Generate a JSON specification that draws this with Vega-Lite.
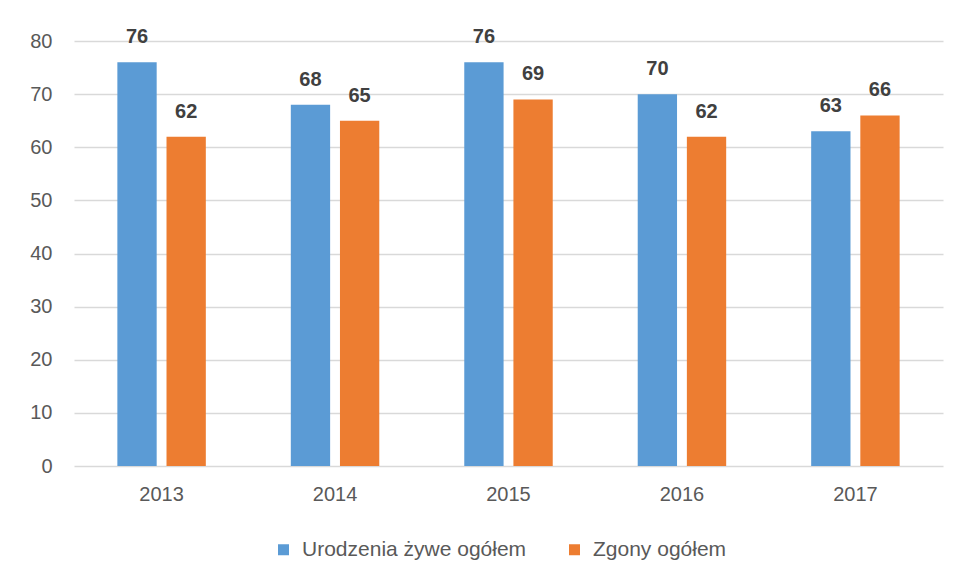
{
  "$schema": "https://vega.github.io/schema/vega-lite/v6.json",
  "width": 869,
  "height": 425,
  "autosize": {"type": "none"},
  "padding": {"left": 74, "top": 41, "right": 14, "bottom": 115},
  "background": "white",
  "config": {
    "view": {"stroke": null},
    "font": "Liberation Sans"
  },
  "data": {
    "values": [
      {"year": "2013", "series": "Urodzenia żywe ogółem", "value": 76},
      {"year": "2013", "series": "Zgony ogółem", "value": 62},
      {"year": "2014", "series": "Urodzenia żywe ogółem", "value": 68},
      {"year": "2014", "series": "Zgony ogółem", "value": 65},
      {"year": "2015", "series": "Urodzenia żywe ogółem", "value": 76},
      {"year": "2015", "series": "Zgony ogółem", "value": 69},
      {"year": "2016", "series": "Urodzenia żywe ogółem", "value": 70},
      {"year": "2016", "series": "Zgony ogółem", "value": 62},
      {"year": "2017", "series": "Urodzenia żywe ogółem", "value": 63},
      {"year": "2017", "series": "Zgony ogółem", "value": 66}
    ]
  },
  "encoding": {
    "x": {
      "field": "year",
      "type": "nominal",
      "scale": {"paddingInner": 0.49, "paddingOuter": 0.25},
      "axis": {
        "title": null,
        "labelAngle": 0,
        "domain": false,
        "ticks": false,
        "labelPadding": 18,
        "labelFontSize": 20,
        "labelColor": "#595959"
      }
    },
    "xOffset": {
      "field": "series",
      "type": "nominal",
      "scale": {"domain": ["Urodzenia żywe ogółem", "Zgony ogółem"], "paddingInner": 0.2, "paddingOuter": 0}
    },
    "y": {
      "field": "value",
      "type": "quantitative",
      "scale": {"domain": [0, 80], "nice": false},
      "axis": {
        "title": null,
        "values": [0, 10, 20, 30, 40, 50, 60, 70, 80],
        "domain": false,
        "ticks": false,
        "grid": true,
        "gridColor": "#D9D9D9",
        "gridWidth": 1.5,
        "labelPadding": 22,
        "labelFontSize": 20,
        "labelColor": "#595959"
      }
    }
  },
  "layer": [
    {
      "mark": {"type": "bar"},
      "encoding": {
        "color": {
          "field": "series",
          "type": "nominal",
          "scale": {"domain": ["Urodzenia żywe ogółem", "Zgony ogółem"], "range": ["#5B9BD5", "#ED7D31"]},
          "legend": {
            "title": null,
            "orient": "none",
            "direction": "horizontal",
            "legendX": 199,
            "legendY": 498,
            "symbolType": "square",
            "symbolSize": 121,
            "symbolStrokeWidth": 0,
            "labelFontSize": 21,
            "labelColor": "#595959",
            "labelOffset": 8,
            "labelLimit": 400,
            "columnPadding": 37
          }
        }
      }
    },
    {
      "mark": {"type": "text", "baseline": "alphabetic", "dy": -19, "fontSize": 20, "fontWeight": "bold", "color": "#404040"},
      "encoding": {
        "text": {"field": "value", "type": "quantitative"}
      }
    }
  ]
}
